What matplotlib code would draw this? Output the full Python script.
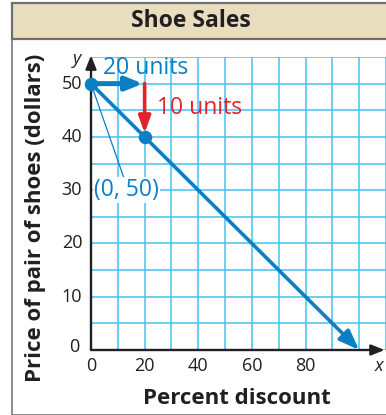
import matplotlib
matplotlib.use("Agg")
import matplotlib.pyplot as plt
from matplotlib.patches import Rectangle, FancyArrowPatch
from matplotlib.lines import Line2D

plt.rcParams['font.family'] = ['Open Sans', 'DejaVu Sans']

# Data
title = "Shoe Sales"
x_label = "Percent discount"
y_label = "Price of pair of shoes (dollars)"
x_ticks = [0, 20, 40, 60, 80]
y_ticks = [0, 10, 20, 30, 40, 50]
point_x = [0, 20]
point_y = [50, 40]
line_x = [0, 100]
line_y = [50, 0]
run_units = 20
rise_units = 10

BLUE = "#0C7EC4"
RED = "#E2222C"
GRID = "#45C2EE"
INK = "#231f20"

W, H = 386, 415
fig = plt.figure(figsize=(W / 100, H / 100), dpi=100)

# Frame and header band
fig.patches.append(Rectangle((12 / W, 0), 1, 1 - 3 / H, transform=fig.transFigure,
                             facecolor="white", edgecolor="#7a7a7a", linewidth=1.2, zorder=-3))
fig.patches.append(Rectangle((12 / W, 1 - 39 / H), 1, 36 / H, transform=fig.transFigure,
                             facecolor="#E9DDBF", edgecolor="#6f6f6f", linewidth=1.6, zorder=-2))
fig.text(191 / W, 1 - 21 / H, title, ha="center", va="center", fontsize=16.5,
         fontweight="bold", color=INK)

ax = fig.add_axes([91 / W, 1 - 350 / H, (W - 91) / W, (350 - 57) / H])
ax.set_facecolor("none")
ax.set_xlim(0, 110)
ax.set_ylim(0, 55)
for s in ax.spines.values():
    s.set_visible(False)
ax.set_xticks(range(0, 111, 10))
ax.set_yticks(range(0, 56, 5))
ax.grid(True, color=GRID, linewidth=1.1, zorder=0)
ax.set_axisbelow(True)
ax.tick_params(length=0, labelbottom=False, labelleft=False)

# Tick labels
for v in x_ticks:
    ax.text(v, -3.0, str(v), ha="center", va="center", fontsize=13, color=INK, clip_on=False)
for v in y_ticks:
    ax.text(-3.3 if v else -4.3, v + (0.5 if v == 0 else 0), str(v), ha="right", va="center",
            fontsize=13, color=INK, clip_on=False)
ax.text(107.5, -3.0, "x", ha="center", va="center", fontsize=13, style="italic",
        color=INK, clip_on=False)
ax.text(-5.2, 54.6, "y", ha="center", va="center", fontsize=13, style="italic",
        color=INK, clip_on=False)

# Axes with arrowheads
ax.add_patch(FancyArrowPatch((0, 0), (109.5, 0), arrowstyle="-|>,head_length=8,head_width=3.2",
                             color=INK, linewidth=1.7, clip_on=False, zorder=3,
                             shrinkA=0, shrinkB=0))
ax.add_patch(FancyArrowPatch((0, 0), (0, 55.3), arrowstyle="-|>,head_length=8,head_width=3.2",
                             color=INK, linewidth=1.7, clip_on=False, zorder=3,
                             shrinkA=0, shrinkB=0))

# Price line with arrow at the end
ax.add_patch(FancyArrowPatch((line_x[0], line_y[0]), (line_x[1], line_y[1]),
                             arrowstyle="-|>,head_length=12,head_width=4.5",
                             color=BLUE, linewidth=2.6, clip_on=False, zorder=4,
                             shrinkA=0, shrinkB=0))

# Run and rise arrows
ax.add_patch(FancyArrowPatch((point_x[0], point_y[0]), (point_x[0] + run_units - 0.6, point_y[0]),
                             arrowstyle="-|>,head_length=10,head_width=4",
                             color=BLUE, linewidth=3.6, clip_on=False, zorder=5,
                             shrinkA=0, shrinkB=0))
ax.add_patch(FancyArrowPatch((point_x[1], point_y[0]), (point_x[1], point_y[0] - rise_units + 0.7),
                             arrowstyle="-|>,head_length=10,head_width=3.6",
                             color=RED, linewidth=2.6, clip_on=False, zorder=5,
                             shrinkA=0, shrinkB=0))

ax.scatter(point_x, point_y, s=75, color=BLUE, zorder=6, clip_on=False)

# Labels
ax.text(4.3, 52.9, f"{run_units} units", ha="left", va="center", fontsize=16.5, color=BLUE, zorder=7)
ax.text(24.5, 45.5, f"{rise_units} units", ha="left", va="center", fontsize=16.5, color=RED, zorder=7)
ax.add_line(Line2D([point_x[0], 12.2], [point_y[0], 32.4], color=BLUE, linewidth=0.9, zorder=5))
ax.text(1.2, 30.1, f"({point_x[0]}, {point_y[0]})", ha="left", va="center", fontsize=16.5,
        color=BLUE, zorder=7,
        bbox=dict(boxstyle="square,pad=0.05", facecolor="white", edgecolor="none"))

fig.text(237 / W, 1 - 398 / H, x_label, ha="center", va="center", fontsize=16,
         fontweight="bold", color=INK)
fig.text(36 / W, 1 - 218 / H, y_label, ha="center", va="center", fontsize=16,
         fontweight="bold", color=INK, rotation=90)

fig.savefig("out.png", dpi=100)
